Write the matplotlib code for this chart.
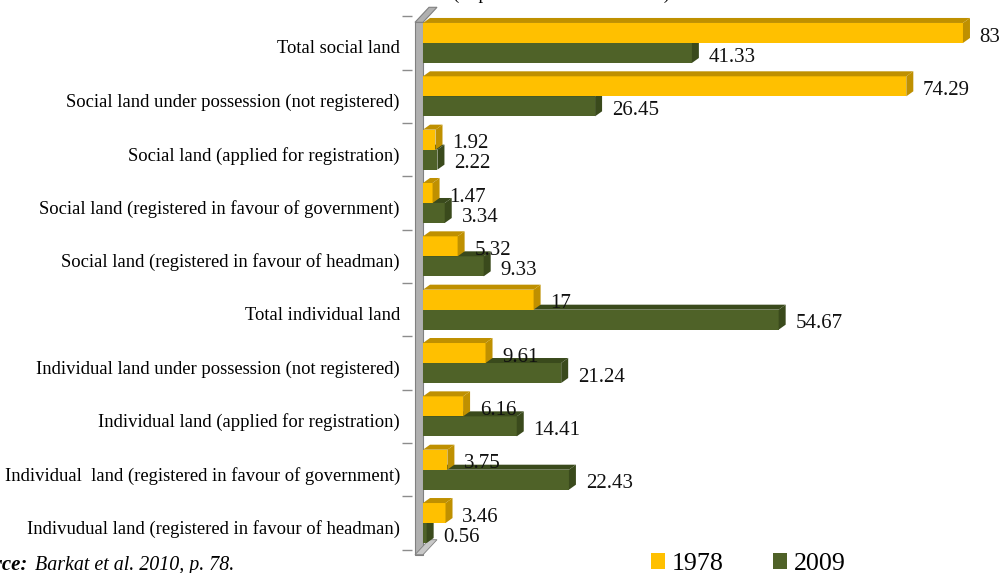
import numpy as np
import matplotlib.pyplot as plt
from matplotlib.patches import Polygon, Patch
from matplotlib.transforms import ScaledTranslation

plt.rcParams['font.family'] = ['Liberation Serif', 'DejaVu Serif']

categories = ["Total social land",
              "Social land under possession (not registered)",
              "Social land (applied for registration)",
              "Social land (registered in favour of government)",
              "Social land (registered in favour of headman)",
              "Total individual land",
              "Individual land under possession (not registered)",
              "Individual land (applied for registration)",
              "Individual  land (registered in favour of government)",
              "Indivudual land (registered in favour of headman)"]
v1978 = [83, 74.29, 1.92, 1.47, 5.32, 17, 9.61, 6.16, 3.75, 3.46]
v2009 = [41.33, 26.45, 2.22, 3.34, 9.33, 54.67, 21.24, 14.41, 22.43, 0.56]
series = ["1978", "2009"]

yellow, yellow_dark = '#FFC000', '#BF9000'
green, green_dark = '#4F6228', '#3A4A1C'
wall, wall_dark = '#B0B0B0', '#808080'

W, H = 1005, 573
fig = plt.figure(figsize=(W/100, H/100), dpi=100)
ax = fig.add_axes([423/W, 23.3/H, 572.5/W, 533.4/H])
xmax = 88
ax.set_xlim(0, xmax)
ax.set_ylim(len(categories)-0.5, -0.5)

# pixel -> data unit conversion for the fake 3d depth
ppx = 572.5/xmax
ppy = 533.4/len(categories)
dx, dy = 7/ppx, 5/ppy

y = np.arange(len(categories))
h = 0.375
b1 = ax.barh(y - h/2, v1978, height=h, color=yellow, zorder=3)
b2 = ax.barh(y + h/2, v2009, height=h, color=green, zorder=2)

for bars, dark, z in [(b2, green_dark, 2), (b1, yellow_dark, 3)]:
    for p in bars:
        x0, w = p.get_x(), p.get_width()
        yt, yb = p.get_y(), p.get_y() + p.get_height()
        top = [(x0, yt), (x0+w, yt), (x0+w+dx, yt-dy), (x0+dx, yt-dy)]
        side = [(x0+w, yt), (x0+w, yb), (x0+w+dx, yb-dy), (x0+w+dx, yt-dy)]
        ax.add_patch(Polygon(top, closed=True, fc=dark, ec='none', zorder=z))
        ax.add_patch(Polygon(side, closed=True, fc=dark, ec='none', zorder=z))

for vals, off in [(v1978, -h/2), (v2009, h/2)]:
    for i, v in enumerate(vals):
        ax.annotate('{:g}'.format(v), xy=(v+dx, i+off), xytext=(7, -3),
                    textcoords='offset points', ha='left', va='center',
                    fontsize=15, color='#111111')

# wall on the left
ww = 8/ppx
wt = -0.5 + 6/ppy
wb = len(categories) - 0.5 + 5/ppy
ox, oy = 14/ppx, 15/ppy
ax.add_patch(Polygon([(-ww, wt), (0, wt), (0, wb), (-ww, wb)], closed=True,
                     fc=wall, ec=wall_dark, lw=0.8, zorder=1, clip_on=False))
ax.add_patch(Polygon([(-ww, wt), (0, wt), (ox, wt-oy), (ox-ww, wt-oy)], closed=True,
                     fc=wall, ec=wall_dark, lw=0.8, zorder=1, clip_on=False))
ax.add_patch(Polygon([(-ww, wb), (0, wb), (ox, wb-oy), (ox-ww, wb-oy)], closed=True,
                     fc='#C8C8C8', ec=wall_dark, lw=0.6, zorder=1, clip_on=False))

for s in ax.spines.values():
    s.set_visible(False)
ax.spines['left'].set_position(('outward', 8))
ax.set_xticks([])
ax.set_yticks(y, categories, fontsize=13.4)
ax.set_yticks(np.arange(-0.5, len(categories), 1), minor=True)
ax.tick_params(axis='y', which='major', length=0, pad=8.6)
ax.tick_params(axis='y', which='minor', length=7.5, width=1, color='#8C8C8C')
ax.patch.set_visible(False)
shift = ScaledTranslation(0, -4/100, fig.dpi_scale_trans)
for lab in ax.get_yticklabels():
    lab.set_transform(lab.get_transform() + shift)

handles = [Patch(fc=yellow), Patch(fc=green)]
fig.legend(handles, series, loc='lower left', bbox_to_anchor=(651/W, -2/H),
           ncol=2, frameon=False, fontsize=18.7, handlelength=0.54,
           handleheight=0.54, handletextpad=0.26, columnspacing=1.9,
           borderpad=0, borderaxespad=0)

fig.text(453/W, 574/H, "(in percent of total land area)", ha='left',
         va='baseline', fontsize=13.4)
fig.text(28/W, 3/H, "Source:", ha='right', va='baseline', fontsize=15,
         style='italic', weight='bold')
fig.text(35/W, 3/H, "Barkat et al. 2010, p. 78.", ha='left', va='baseline',
         fontsize=14.4, style='italic')

fig.savefig("out.png", dpi=100)
